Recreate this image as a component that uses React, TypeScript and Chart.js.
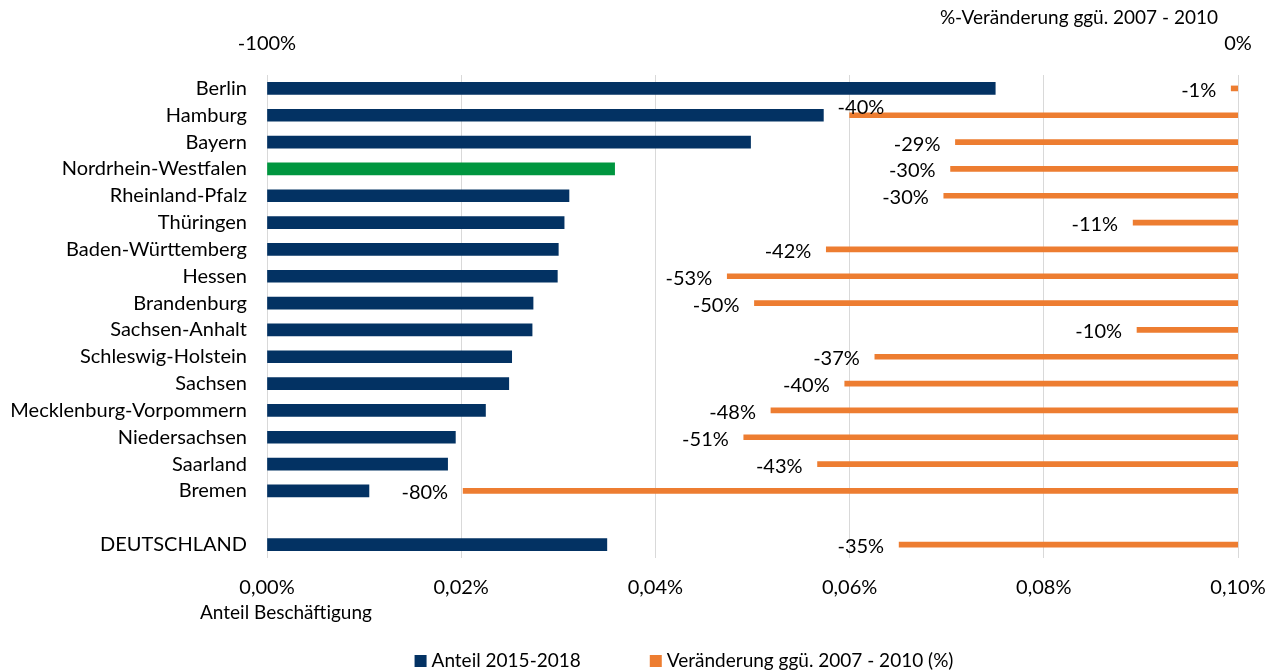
import React, { useEffect, useRef } from 'react';
import { Chart, registerables } from 'chart.js';

Chart.register(...registerables);

const categories = [
  'Berlin', 'Hamburg', 'Bayern', 'Nordrhein-Westfalen', 'Rheinland-Pfalz', 'Thüringen',
  'Baden-Württemberg', 'Hessen', 'Brandenburg', 'Sachsen-Anhalt', 'Schleswig-Holstein',
  'Sachsen', 'Mecklenburg-Vorpommern', 'Niedersachsen', 'Saarland', 'Bremen', '', 'DEUTSCHLAND',
];
// Anteil Beschäftigung 2015-2018 (in %)
const anteil = [
  0.0750, 0.0573, 0.0498, 0.0358, 0.0311, 0.0306, 0.0300, 0.0299, 0.0274, 0.0273,
  0.0252, 0.0249, 0.0225, 0.0194, 0.0186, 0.0105, null, 0.0350,
];
// Veränderung ggü. 2007 - 2010 (%)
const veraenderung = [
  -0.7, -40.0, -29.1, -29.6, -30.3, -10.8, -42.4, -52.6, -49.8, -10.4,
  -37.4, -40.5, -48.1, -50.9, -43.3, -79.8, null, -34.9,
];
const highlightCategory = 'Nordrhein-Westfalen';
const seriesNames = ['Anteil 2015-2018', 'Veränderung ggü. 2007 - 2010 (%)'];
const bottomTicks = [0, 0.02, 0.04, 0.06, 0.08, 0.1];
const topTicks = [-100, 0];
const topAxisTitle = '%-Veränderung ggü. 2007 - 2010';
const bottomAxisTitle = 'Anteil Beschäftigung';

const BLUE = '#033263';
const GREEN = '#00963F';
const ORANGE = '#ED7D31';
const FONT = 'Lato';
const FS = 20;
const FS_SMALL = 19;

const labelsPlugin = {
  id: 'valueLabels',
  afterDatasetsDraw(chart: any) {
    const ctx = chart.ctx;
    const meta = chart.getDatasetMeta(1);
    ctx.save();
    ctx.font = `${FS}px ${FONT}`;
    ctx.fillStyle = '#000';
    ctx.textBaseline = 'middle';
    meta.data.forEach((el: any, i: number) => {
      const v = veraenderung[i];
      if (v === null || v === undefined) return;
      const txt = `${Math.round(v)}%`;
      if (i === 1) {
        ctx.textAlign = 'left';
        ctx.fillText(txt, el.x - 12, el.y - 8);
      } else {
        ctx.textAlign = 'right';
        ctx.fillText(txt, el.x - 15, el.y + 2);
      }
    });
    ctx.restore();
  },
};

const textPlugin = {
  id: 'extraText',
  afterDraw(chart: any) {
    const ctx = chart.ctx;
    ctx.save();
    ctx.font = `${FS_SMALL}px ${FONT}`;
    ctx.fillStyle = '#000';
    ctx.textBaseline = 'middle';
    ctx.textAlign = 'right';
    ctx.fillText(topAxisTitle, 1218, 18);
    ctx.textAlign = 'left';
    ctx.fillText(bottomAxisTitle, 200, 613);

    // legend
    const colors = [BLUE, ORANGE];
    const box = 12;
    const gapBox = 5;
    const gapItems = 69;
    const widths = seriesNames.map((n) => box + gapBox + ctx.measureText(n).width);
    const total = widths.reduce((a, b) => a + b, 0) + gapItems;
    let x = 684 - total / 2;
    const y = 661;
    seriesNames.forEach((n, i) => {
      ctx.fillStyle = colors[i];
      ctx.fillRect(x, y - box / 2, box, box);
      ctx.fillStyle = '#000';
      ctx.fillText(n, x + box + gapBox, y);
      x += widths[i] + gapItems;
    });
    ctx.restore();
  },
};

export default function App() {
  const ref = useRef<HTMLCanvasElement>(null);
  useEffect(() => {
    document.body.style.margin = '0';
    if (!ref.current) return;
    const chart = new Chart(ref.current, {
      type: 'bar',
      data: {
        labels: categories,
        datasets: [
          {
            label: seriesNames[0],
            data: anteil as any,
            backgroundColor: categories.map((c) => (c === highlightCategory ? GREEN : BLUE)),
            xAxisID: 'x',
            barThickness: 12,
            grouped: false,
            order: 2,
          },
          {
            label: seriesNames[1],
            data: veraenderung as any,
            backgroundColor: ORANGE,
            xAxisID: 'x2',
            barThickness: 5,
            grouped: false,
            order: 1,
          },
        ],
      },
      options: {
        indexAxis: 'y',
        animation: false,
        responsive: false,
        layout: { padding: { left: 0, right: 38, top: 0, bottom: 0 } },
        plugins: {
          legend: { display: false },
          tooltip: { enabled: false },
        },
        scales: {
          y: {
            type: 'category',
            grid: { display: false, drawTicks: false },
            border: { display: false },
            ticks: {
              padding: 20,
              color: '#000',
              font: { family: FONT, size: FS },
              autoSkip: false,
            },
            afterFit(scale: any) {
              scale.width = 267;
              scale.paddingTop = 0;
              scale.paddingBottom = 0;
            },
          },
          x: {
            type: 'linear',
            position: 'bottom',
            min: 0,
            max: 0.1,
            grid: { color: '#D9D9D9', drawTicks: false, lineWidth: 1 },
            border: { display: false },
            afterBuildTicks(scale: any) {
              scale.ticks = bottomTicks.map((v) => ({ value: v }));
            },
            ticks: {
              padding: 18,
              color: '#000',
              font: { family: FONT, size: FS },
              maxRotation: 0,
              callback: (v: any) => `${Number(v).toFixed(2).replace('.', ',')}%`,
            },
            afterFit(scale: any) {
              scale.height = 672 - 558;
              scale.paddingLeft = 0;
              scale.paddingRight = 0;
            },
          },
          x2: {
            type: 'linear',
            position: 'top',
            min: -100,
            max: 0,
            grid: { display: false, drawTicks: false },
            border: { display: false },
            afterBuildTicks(scale: any) {
              scale.ticks = topTicks.map((v) => ({ value: v }));
            },
            ticks: {
              padding: 19,
              color: '#000',
              font: { family: FONT, size: FS },
              maxRotation: 0,
              callback: (v: any) => `${Math.round(Number(v))}%`,
            },
            afterFit(scale: any) {
              scale.height = 75;
              scale.paddingLeft = 0;
              scale.paddingRight = 0;
            },
          },
        },
      },
      plugins: [labelsPlugin, textPlugin],
    } as any);
    return () => chart.destroy();
  }, []);
  return (
    <div style={{ width: 1276, height: 672 }}>
      <canvas ref={ref} width={1276} height={672} style={{ display: 'block' }} />
    </div>
  );
}
